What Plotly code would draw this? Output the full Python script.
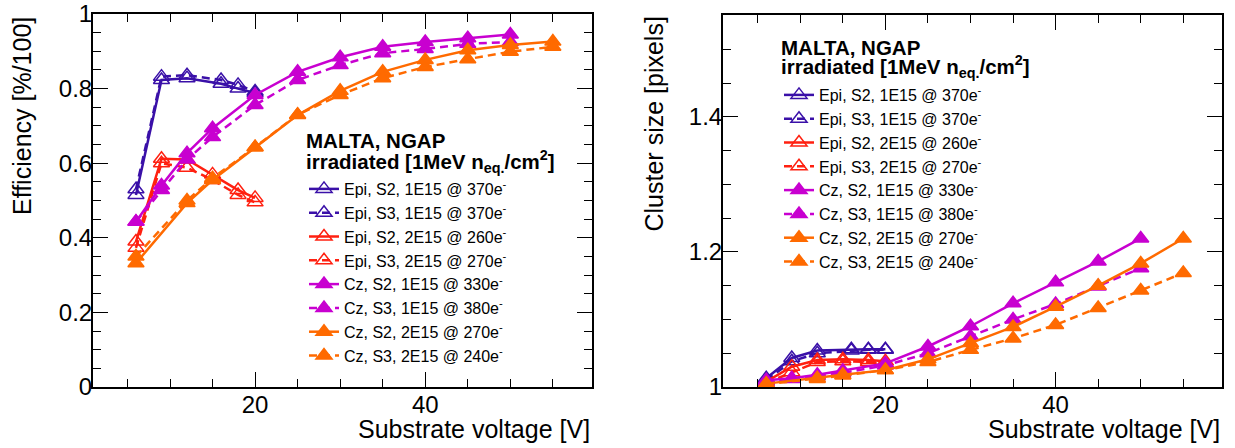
import plotly.graph_objects as go

# ---------------- data ----------------
v_epi_1e15 = [6, 9, 12, 16, 18, 20]
v_epi_2e15 = [6, 9, 12, 15, 18, 20]
v_cz_1e15 = [6, 9, 12, 15, 20, 25, 30, 35, 40, 45, 50]
v_cz_2e15 = [6, 12, 15, 20, 25, 30, 35, 40, 45, 50, 55]

eff_epi_s2_1e15 = [0.515, 0.823, 0.828, 0.813, 0.800, 0.788]
eff_epi_s3_1e15 = [0.530, 0.832, 0.836, 0.823, 0.810, 0.792]
eff_epi_s2_2e15 = [0.390, 0.612, 0.610, 0.570, 0.528, 0.507]
eff_epi_s3_2e15 = [0.373, 0.600, 0.588, 0.555, 0.515, 0.495]
eff_cz_s2_1e15 = [0.443, 0.540, 0.627, 0.694, 0.783, 0.845, 0.884, 0.912, 0.925, 0.935, 0.945]
eff_cz_s3_1e15 = [0.443, 0.528, 0.610, 0.670, 0.756, 0.823, 0.863, 0.895, 0.906, 0.920, 0.925]
eff_cz_s2_2e15 = [0.332, 0.493, 0.555, 0.643, 0.729, 0.794, 0.845, 0.877, 0.903, 0.917, 0.926]
eff_cz_s3_2e15 = [0.350, 0.500, 0.560, 0.643, 0.730, 0.783, 0.828, 0.858, 0.879, 0.899, 0.912]

cs_epi_s2_1e15 = [1.013, 1.043, 1.054, 1.056, 1.056, 1.056]
cs_epi_s3_1e15 = [1.010, 1.038, 1.050, 1.054, 1.055, 1.055]
cs_epi_s2_2e15 = [1.008, 1.030, 1.040, 1.041, 1.040, 1.038]
cs_epi_s3_2e15 = [1.006, 1.022, 1.037, 1.038, 1.037, 1.035]
cs_cz_s2_1e15 = [1.010, 1.013, 1.018, 1.024, 1.035, 1.060, 1.090, 1.124, 1.155, 1.186, 1.220]
cs_cz_s3_1e15 = [1.008, 1.012, 1.016, 1.021, 1.032, 1.050, 1.075, 1.100, 1.123, 1.149, 1.176]
cs_cz_s2_2e15 = [1.005, 1.013, 1.018, 1.025, 1.041, 1.065, 1.089, 1.119, 1.150, 1.183, 1.220]
cs_cz_s3_2e15 = [1.004, 1.012, 1.017, 1.025, 1.037, 1.055, 1.072, 1.092, 1.117, 1.143, 1.169]

labels = [
    "Epi, S2, 1E15 @ 370e<sup>-</sup>",
    "Epi, S3, 1E15 @ 370e<sup>-</sup>",
    "Epi, S2, 2E15 @ 260e<sup>-</sup>",
    "Epi, S3, 2E15 @ 270e<sup>-</sup>",
    "Cz, S2, 1E15 @ 330e<sup>-</sup>",
    "Cz, S3, 1E15 @ 380e<sup>-</sup>",
    "Cz, S2, 2E15 @ 270e<sup>-</sup>",
    "Cz, S3, 2E15 @ 240e<sup>-</sup>",
]
header_1 = "<b>MALTA, NGAP</b>"
header_2 = "<b>irradiated [1MeV n<sub>eq.</sub>/cm<sup>2</sup>]</b>"

C_BLUE = "#3a10a8"
C_RED = "#ff2010"
C_MAG = "#c800d0"
C_ORA = "#ff6a00"

series_style = [
    (C_BLUE, "solid", "triangle-up-open"),
    (C_BLUE, "dash", "triangle-up-open"),
    (C_RED, "solid", "triangle-up-open"),
    (C_RED, "dash", "triangle-up-open"),
    (C_MAG, "solid", "triangle-up"),
    (C_MAG, "dash", "triangle-up"),
    (C_ORA, "solid", "triangle-up"),
    (C_ORA, "dash", "triangle-up"),
]

xs = [v_epi_1e15, v_epi_1e15, v_epi_2e15, v_epi_2e15, v_cz_1e15, v_cz_1e15, v_cz_2e15, v_cz_2e15]
eff = [eff_epi_s2_1e15, eff_epi_s3_1e15, eff_epi_s2_2e15, eff_epi_s3_2e15,
       eff_cz_s2_1e15, eff_cz_s3_1e15, eff_cz_s2_2e15, eff_cz_s3_2e15]
cs = [cs_epi_s2_1e15, cs_epi_s3_1e15, cs_epi_s2_2e15, cs_epi_s3_2e15,
      cs_cz_s2_1e15, cs_cz_s3_1e15, cs_cz_s2_2e15, cs_cz_s3_2e15]

W, H = 1235, 448
FONT = "Liberation Sans, Arial, Helvetica, sans-serif"

fig = go.Figure()

for panel, (ys, xa, ya, lg) in enumerate([(eff, "x", "y", "legend"), (cs, "x2", "y2", "legend2")]):
    for i in range(8):
        col, dash, sym = series_style[i]
        dashstr = "8px,5px" if dash == "dash" else "solid"
        fig.add_trace(go.Scatter(
            x=xs[i], y=ys[i], xaxis=xa, yaxis=ya, legend=lg,
            mode="lines+markers", name=labels[i],
            line=dict(color=col, width=2.5, dash=dashstr),
            marker=dict(symbol=sym, size=14, color=col,
                        line=dict(color=col, width=1.5)),
        ))


def px_x(p):
    return p / W


def px_y(p):
    return (H - p) / H


axis_common = dict(
    showline=True, linecolor="black", linewidth=2, mirror="allticks",
    ticks="inside", ticklen=15, tickwidth=1, tickcolor="black",
    showgrid=False, zeroline=False, automargin=False,
    tickfont=dict(family=FONT, size=24, color="black"),
)
minor_common = dict(ticks="inside", ticklen=8, tickcolor="black", showgrid=False)

fig.update_layout(
    width=W, height=H,
    margin=dict(l=0, r=0, t=0, b=0, autoexpand=False),
    paper_bgcolor="white", plot_bgcolor="white",
    font=dict(family=FONT, color="black"),
    xaxis=dict(domain=[px_x(93), px_x(592)], range=[0.95, 59.6], anchor="y",
               tickvals=[20, 40], minor=dict(dtick=5, tick0=0, **minor_common),
               ticklabelstandoff=-5, **axis_common),
    yaxis=dict(domain=[px_y(387), px_y(14)], range=[0, 1], anchor="x",
               tickvals=[0, 0.2, 0.4, 0.6, 0.8, 1], ticktext=["0", "0.2", "0.4", "0.6", "0.8", "1"],
               minor=dict(dtick=0.05, tick0=0, **minor_common),
               ticklabelstandoff=-6, **axis_common),
    xaxis2=dict(domain=[px_x(723), px_x(1222)], range=[0.92, 59.55], anchor="y2",
                tickvals=[20, 40], minor=dict(dtick=5, tick0=0, **minor_common),
                ticklabelstandoff=-5, **axis_common),
    yaxis2=dict(domain=[px_y(387), px_y(15)], range=[1, 1.551], anchor="x2",
                tickvals=[1, 1.2, 1.4], ticktext=["1", "1.2", "1.4"],
                minor=dict(dtick=0.05, tick0=0, **minor_common),
                ticklabelstandoff=-6, **axis_common),
    legend=dict(
        x=px_x(304), y=px_y(172), xanchor="left", yanchor="top",
        bgcolor="rgba(0,0,0,0)", borderwidth=0,
        font=dict(family=FONT, size=16, color="black"),
        itemwidth=30, tracegroupgap=0,
    ),
    legend2=dict(
        x=px_x(779), y=px_y(78), xanchor="left", yanchor="top",
        bgcolor="rgba(0,0,0,0)", borderwidth=0,
        font=dict(family=FONT, size=16, color="black"),
        itemwidth=30, tracegroupgap=0,
    ),
    showlegend=True,
)

annots = [
    dict(text="Substrate voltage [V]", x=px_x(592), y=px_y(429), xanchor="right", yanchor="middle"),
    dict(text="Substrate voltage [V]", x=px_x(1222), y=px_y(429), xanchor="right", yanchor="middle"),
    dict(text="Efficiency [%/100]", x=px_x(22), y=px_y(15), xanchor="center", yanchor="top", textangle=-90),
    dict(text="Cluster size [pixels]", x=px_x(653), y=px_y(15), xanchor="center", yanchor="top", textangle=-90),
]
for a in annots:
    fig.add_annotation(xref="paper", yref="paper", showarrow=False,
                       font=dict(family=FONT, size=25, color="black"), **a)

headers = [
    (header_1, 304, 140), (header_2, 304, 161),
    (header_1, 779, 47), (header_2, 779, 67),
]
for txt, hx, hy in headers:
    fig.add_annotation(xref="paper", yref="paper", showarrow=False, text=txt,
                       x=px_x(hx), y=px_y(hy), xanchor="left", yanchor="middle",
                       font=dict(family=FONT, size=20.5, color="black"))

fig.write_html("out.html", config={"displayModeBar": False},
               post_script="document.body.style.margin='0';document.body.style.overflow='hidden';")
